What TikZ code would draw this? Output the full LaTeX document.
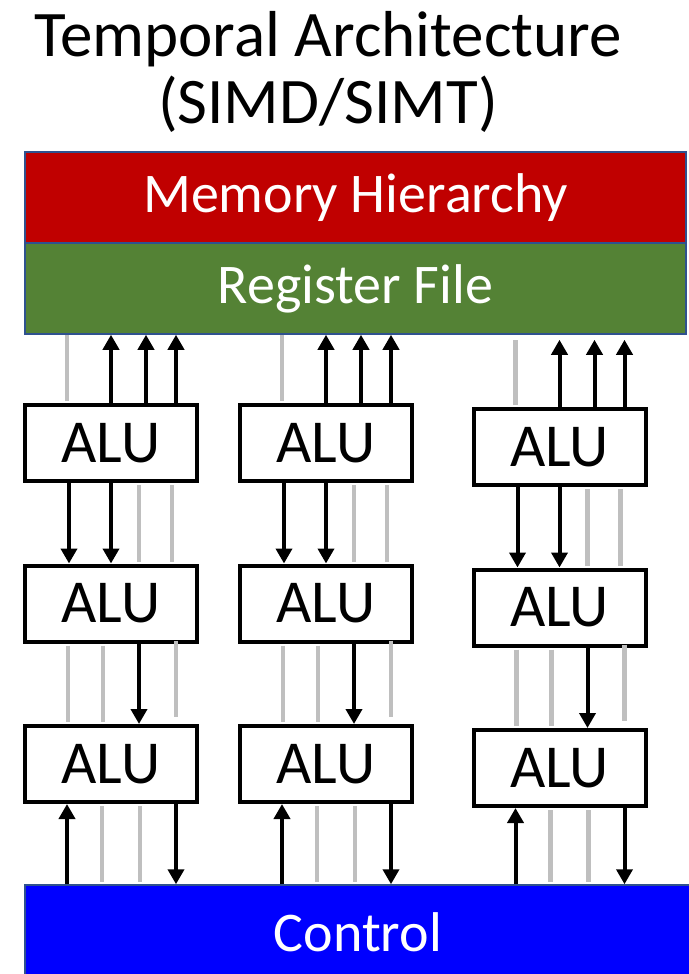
\documentclass[tikz,border=0pt]{standalone}
\usepackage{fontspec}
\setmainfont{Carlito}
\usetikzlibrary{arrows.meta,calc}
\definecolor{memred}{HTML}{C00000}
\definecolor{rfgreen}{HTML}{548235}
\definecolor{ctlblue}{HTML}{0000FF}
\definecolor{edgeblue}{HTML}{2F528F}
\definecolor{wire}{HTML}{BFBFBF}
\tikzset{
  band/.style={draw=edgeblue, line width=1.5pt, text=white, inner sep=0pt,
    font=\fontsize{56}{64}\selectfont},
  alu/.style={draw=black, fill=white, line width=4pt, inner sep=0pt,
    minimum width=172pt, minimum height=76pt, font=\fontsize{61}{70}\selectfont},
  upw/.style={draw=black, line width=4pt, -{Triangle[width=16pt,length=15pt]}},
  dnw/.style={draw=black, line width=4pt, -{Triangle[width=16pt,length=15pt]}},
  gw/.style={draw=wire, line width=4.5pt, shorten <=2pt, shorten >=2pt},
}
\begin{document}
\begin{tikzpicture}[x=1pt,y=-1pt]
\useasboundingbox (0,0) rectangle (688,974);

% title, two centred lines (base anchor sits on the last line)
\node[align=center, font=\fontsize{65}{67}\selectfont, inner sep=0pt, anchor=base] (title) at (328,123)
  {Temporal Architecture\\(SIMD/SIMT)};

% memory hierarchy and register file
\node[band, fill=memred, minimum width=661pt, minimum height=91pt] (mem) at (355.5,197.5) {Memory Hierarchy};
\node[band, fill=rfgreen, minimum width=661pt, minimum height=91pt] (rf) at (355.5,288.5) {Register File};

% control
\node[band, fill=ctlblue, minimum width=666pt, minimum height=95pt] (ctl) at (358,932.5) {Control};

% ALU grid
\node[alu] (a11) at (111,443) {ALU};
\node[alu] (a12) at (111,603.5) {ALU};
\node[alu] (a13) at (111,764) {ALU};
\node[alu] (a21) at (326,443) {ALU};
\node[alu] (a22) at (326,603.5) {ALU};
\node[alu] (a23) at (326,764) {ALU};
\node[alu] (a31) at (559.5,447) {ALU};
\node[alu] (a32) at (559.5,607.5) {ALU};
\node[alu] (a33) at (559.5,768) {ALU};

\foreach \c/\g in {1/0pt,2/0pt,3/5pt} {
  % ALU row 1 <-> register file
  \draw[gw, shorten >=\g] ([xshift=44pt]a\c1.north west) -- ([xshift=44pt]a\c1.north west |- rf.south);
  \foreach \o in {88,123,153}
    \draw[upw, shorten >=\g] ([xshift=\o pt]a\c1.north west) -- ([xshift=\o pt]a\c1.north west |- rf.south);
  % row 1 -> row 2
  \foreach \o in {46,88}
    \draw[dnw] ([xshift=\o pt]a\c1.south west) -- ([xshift=\o pt]a\c1.south west |- a\c2.north);
  \foreach \o in {116,149}
    \draw[gw] ([xshift=\o pt]a\c1.south west) -- ([xshift=\o pt]a\c1.south west |- a\c2.north);
  % row 2 -> row 3
  \foreach \o in {45,80}
    \draw[gw] ([xshift=\o pt]a\c2.south west) -- ([xshift=\o pt]a\c2.south west |- a\c3.north);
  \draw[dnw] ([xshift=116pt]a\c2.south west) -- ([xshift=116pt]a\c2.south west |- a\c3.north);
  \draw[gw, shorten <=-3pt, shorten >=7pt] ([xshift=153pt]a\c2.south west) -- ([xshift=153pt]a\c2.south west |- a\c3.north);
  % row 3 <-> control
  \draw[upw] ([xshift=44pt]a\c3.south west |- ctl.north) -- ([xshift=44pt]a\c3.south west);
  \foreach \o in {79,117}
    \draw[gw] ([xshift=\o pt]a\c3.south west) -- ([xshift=\o pt]a\c3.south west |- ctl.north);
  \draw[dnw] ([xshift=153pt]a\c3.south west) -- ([xshift=153pt]a\c3.south west |- ctl.north);
}
\end{tikzpicture}
\end{document}
